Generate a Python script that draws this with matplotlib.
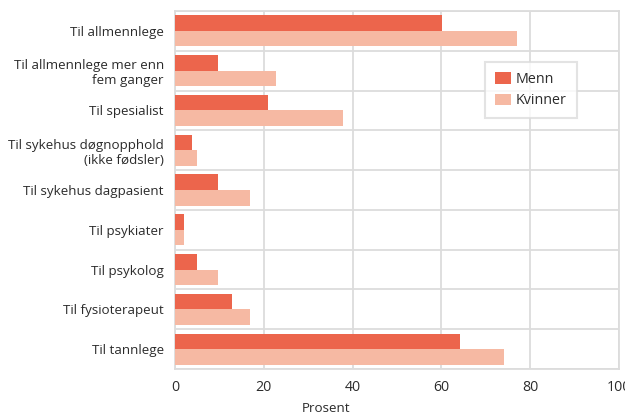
import matplotlib
matplotlib.use("Agg")
import matplotlib.pyplot as plt
import numpy as np

CATEGORIES = [
    "Til allmennlege",
    "Til allmennlege mer enn\nfem ganger",
    "Til spesialist",
    "Til sykehus døgnopphold\n(ikke fødsler)",
    "Til sykehus dagpasient",
    "Til psykiater",
    "Til psykolog",
    "Til fysioterapeut",
    "Til tannlege",
]
MENN = [60.1, 9.7, 20.9, 3.8, 9.7, 2.0, 4.9, 12.8, 64.2]
KVINNER = [77.0, 22.7, 37.8, 4.9, 16.9, 2.0, 9.7, 16.9, 74.1]
XTICKS = [0, 20, 40, 60, 80, 100]

plt.rcParams["font.family"] = ["Open Sans", "DejaVu Sans"]
plt.rcParams["font.size"] = 9.6

GRID = "#dcdcdc"
TEXT = "#2b2b2b"

fig = plt.figure(figsize=(6.25, 4.16), dpi=100)
ax = fig.add_axes([175 / 625, 1 - 369 / 416, 444 / 625, 358 / 416])

y = np.arange(len(CATEGORIES))
h = 0.39
ax.barh(y - h / 2, MENN, h, color="#ec654c", label="Menn", zorder=3)
ax.barh(y + h / 2, KVINNER, h, color="#f6b9a3", label="Kvinner", zorder=3)

ax.set_xlim(0, 100)
ax.set_ylim(len(CATEGORIES) - 0.5, -0.5)
ax.set_xticks(XTICKS)
ax.set_yticks(y)
ax.set_yticklabels(CATEGORIES, color=TEXT)
ax.set_yticks(np.arange(len(CATEGORIES) + 1) - 0.5, minor=True)
ax.tick_params(axis="y", which="both", length=0, pad=8)
ax.tick_params(axis="x", length=0, pad=8, colors=TEXT, labelsize=10.2)
ax.grid(axis="x", color=GRID, linewidth=1.3, zorder=0)
ax.grid(axis="y", which="minor", color=GRID, linewidth=1.3, zorder=0)
ax.grid(axis="y", which="major", visible=False)
for s in ax.spines.values():
    s.set_color(GRID)
    s.set_linewidth(1.3)

fig.text(326 / 625, 1 - 408 / 416, "Prosent", ha="center", va="center", color=TEXT)

leg = ax.legend(loc="upper left", bbox_to_anchor=((485 - 175) / 444, (369 - 62) / 358),
                borderaxespad=0, frameon=True, fancybox=False, edgecolor=GRID,
                borderpad=0.7, handlelength=1.15, handleheight=0.9, handletextpad=0.3,
                labelspacing=0.45, fontsize=10.3)
leg.get_frame().set_linewidth(1.5)
for t in leg.get_texts():
    t.set_color(TEXT)

fig.savefig("out.png", dpi=100, facecolor="white")
